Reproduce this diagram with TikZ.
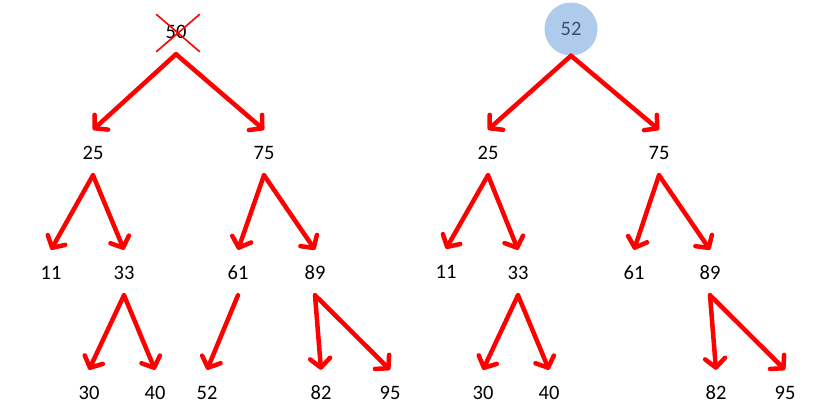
\documentclass[tikz,border=0pt]{standalone}
\usepackage{fontspec}
\setmainfont{Carlito}
\usepackage{tikz}
\usetikzlibrary{arrows.meta, shapes.misc}

\definecolor{pfeilrot}{RGB}{255,0,0}
\definecolor{wurzelblau}{RGB}{174,203,235}
\definecolor{wurzeltext}{RGB}{62,80,108}

\tikzset{
  zahl/.style={inner sep=0pt, minimum height=44pt, minimum width=30pt, font=\fontsize{20.5pt}{24pt}\selectfont},
  kante/.style={draw=pfeilrot, line width=4.5pt, line cap=round,
    -{Straight Barb[length=9pt, width=20pt, line join=round, line cap=round]}}
}

\begin{document}
\begin{tikzpicture}[x=1pt, y=-1pt]
  \useasboundingbox (0,0) rectangle (836,418);

  % Linker Baum (50 wird entfernt)
  \node[zahl] (l50) at (176,32) {50};
  \node[cross out, draw=pfeilrot, line width=1.6pt, minimum width=42pt, minimum height=36pt] (kreuz) at (178,33) {};
  \node[zahl] (l25) at (93,153) {25};
  \node[zahl] (l75) at (264,153) {75};
  \node[zahl] (l11) at (51,273) {11};
  \node[zahl] (l33) at (124,273) {33};
  \node[zahl] (l61) at (238,273) {61};
  \node[zahl] (l89) at (315,273) {89};
  \node[zahl] (l30) at (89,393) {30};
  \node[zahl] (l40) at (155,393) {40};
  \node[zahl] (l52) at (207,393) {52};
  \node[zahl] (l82) at (321,393) {82};
  \node[zahl] (l95) at (390,393) {95};

  \foreach \a/\b in {l50/l25, l50/l75, l25/l11, l25/l33, l75/l61, l75/l89,
                     l33/l30, l33/l40, l61/l52, l89/l82, l89/l95}
    \draw[kante] (\a.south) -- ([yshift=1pt]\b.north);

  % Rechter Baum (52 als neue Wurzel)
  \node[circle, fill=wurzelblau, text=wurzeltext, inner sep=0pt, minimum size=53pt,
        font=\fontsize{20.5pt}{24pt}\selectfont] (r52) at (571,29) {52};
  \node[zahl] (r25) at (488,153) {25};
  \node[zahl] (r75) at (659,153) {75};
  \node[zahl] (r11) at (446,272) {11};
  \node[zahl] (r33) at (518,273) {33};
  \node[zahl] (r61) at (634,273) {61};
  \node[zahl] (r89) at (710,273) {89};
  \node[zahl] (r30) at (483,393) {30};
  \node[zahl] (r40) at (549,393) {40};
  \node[zahl] (r82) at (716,393) {82};
  \node[zahl] (r95) at (785,393) {95};

  \foreach \a/\b in {r52/r25, r52/r75, r25/r11, r25/r33, r75/r61, r75/r89,
                     r33/r30, r33/r40, r89/r82, r89/r95}
    \draw[kante] (\a.south) -- ([yshift=1pt]\b.north);
\end{tikzpicture}
\end{document}
